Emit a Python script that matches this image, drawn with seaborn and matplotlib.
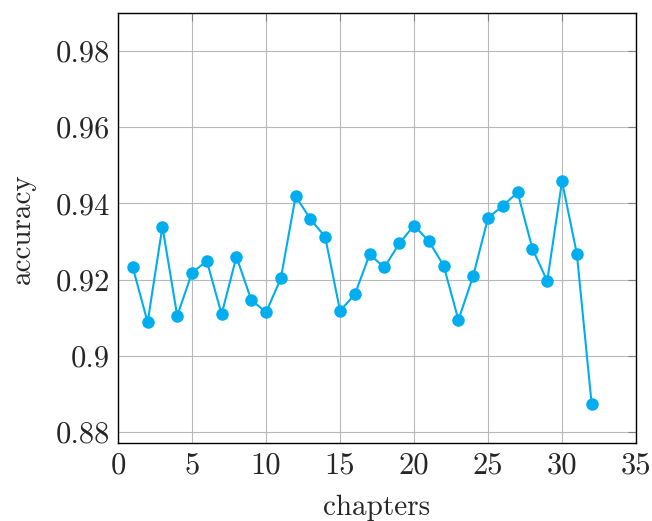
import matplotlib
matplotlib.use("Agg")
import matplotlib.pyplot as plt
from matplotlib.ticker import FuncFormatter
import pandas as pd
import seaborn as sns

chapters = list(range(1, 33))
accuracy = [0.9232, 0.9088, 0.9339, 0.9105, 0.9218, 0.9249, 0.9109, 0.9260,
            0.9147, 0.9114, 0.9203, 0.9419, 0.9359, 0.9312, 0.9118, 0.9161,
            0.9266, 0.9232, 0.9295, 0.9342, 0.9301, 0.9237, 0.9094, 0.9210,
            0.9362, 0.9394, 0.9429, 0.9281, 0.9196, 0.9458, 0.9268, 0.8874]
x_ticks = [0, 5, 10, 15, 20, 25, 30, 35]
y_ticks = [0.88, 0.90, 0.92, 0.94, 0.96, 0.98]

sns.set_style("white")
plt.rcParams["font.family"] = ["serif"]
plt.rcParams["font.serif"] = ["cmr10", "DejaVu Serif"]
plt.rcParams["axes.unicode_minus"] = False
plt.rcParams["mathtext.fontset"] = "cm"

df = pd.DataFrame({"chapters": chapters, "accuracy": accuracy})

fig = plt.figure(figsize=(6.52, 5.21), dpi=100)
ax = fig.add_axes([0.181, 0.149, 0.7945, 0.826])

sns.lineplot(data=df, x="chapters", y="accuracy", ax=ax, color="#00AEEF",
             marker="o", markersize=9, markeredgewidth=0, linewidth=1.5, zorder=3)

ax.set_xlim(0, 35)
ax.set_ylim(0.877, 0.99)
ax.set_xticks(x_ticks)
ax.set_yticks(y_ticks)
ax.xaxis.set_major_formatter(FuncFormatter(lambda v, p: f"{v:g}"))
ax.yaxis.set_major_formatter(FuncFormatter(lambda v, p: f"{v:g}"))
ax.grid(True, color="#b8b8b8", linewidth=0.8)
ax.tick_params(direction="in", length=6, width=0.8, color="#808080",
               top=True, right=True, labelsize=22, pad=6)
for s in ax.spines.values():
    s.set_color("black")
    s.set_linewidth(1.0)

ax.set_xlabel("chapters", fontsize=21, labelpad=11)
ax.set_ylabel("accuracy", fontsize=21, labelpad=14)

fig.savefig("out.png", dpi=100)
